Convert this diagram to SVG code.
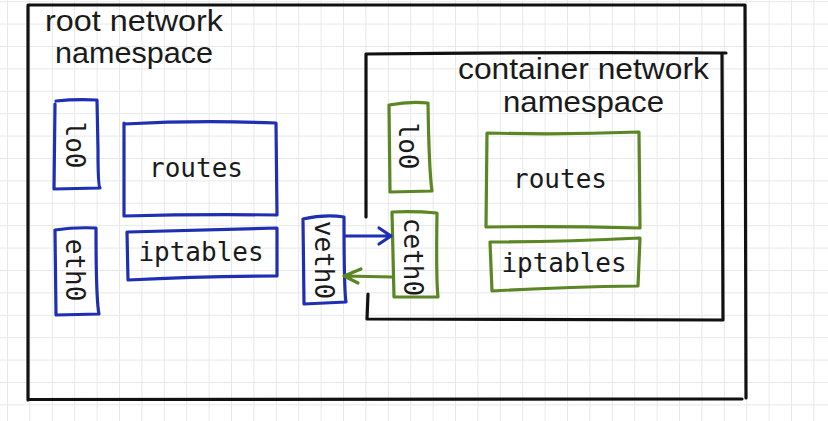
<svg xmlns="http://www.w3.org/2000/svg" width="828" height="421" viewBox="0 0 828 421">
  <defs>
    <pattern id="grid" x="7" y="1.2" width="22.4" height="22.4" patternUnits="userSpaceOnUse">
      <path d="M0,0.5 H22.4 M0.5,0 V22.4" stroke="#e8e8e8" stroke-width="1" fill="none"/>
    </pattern>
  </defs>
  <style>
    .ink { fill: none; stroke-width: 3.2; stroke-linecap: round; stroke-linejoin: round; }
    .black { stroke: #111111; }
    .blue { stroke: #1f2fb2; }
    .green { stroke: #5b8624; }
    .hand { font-family: "Liberation Sans", "DejaVu Sans", sans-serif; font-size: 30px; fill: #1a1a1a; }
    .mono { font-family: "DejaVu Sans Mono", "Liberation Mono", monospace; font-size: 26px; fill: #1a1a1a; text-anchor: middle; dominant-baseline: central; }
  </style>
  <rect width="828" height="421" fill="#ffffff"/>
  <rect width="828" height="421" fill="url(#grid)"/>

  <g id="root-namespace">
    <path class="ink black" d="M28,6 L28,400 M28,399.5 L742,399 M745,5 L746,398 M28,5 Q380,4 745,5"/>
    <text class="hand" x="45" y="31" textLength="178" lengthAdjust="spacingAndGlyphs">root network</text>
    <text class="hand" x="55" y="63" textLength="158" lengthAdjust="spacingAndGlyphs">namespace</text>
  </g>

  <g id="container-namespace">
    <path class="ink black" d="M366,54 L366,217 M368,294 L367,319 L723,320 M722,53 L723,320 M366,54 Q540,52 726,53"/>
    <text class="hand" x="458" y="79" textLength="251" lengthAdjust="spacingAndGlyphs">container network</text>
    <text class="hand" x="503" y="112" textLength="161" lengthAdjust="spacingAndGlyphs">namespace</text>
  </g>

  <g id="root-lo0">
    <path class="ink blue" d="M55,104 L54,189 L100,188 Q98,186 98,150 L97,100 Q75,99 56,101"/>
    <text class="mono" transform="translate(75,145) rotate(90)">lo0</text>
  </g>

  <g id="root-routes">
    <path class="ink blue" d="M124,123 L124,216 Q200,214 277,215 L276,123 Q200,120 124,124"/>
    <text class="mono" x="196" y="168">routes</text>
  </g>

  <g id="root-eth0">
    <path class="ink blue" d="M55,230 L56,315 L99,314 Q96,300 96,228 Q75,227 55,230"/>
    <text class="mono" transform="translate(75,270) rotate(90)">eth0</text>
  </g>

  <g id="root-iptables">
    <path class="ink blue" d="M127,232 L128,280 Q200,276 277,276 L277,228 Q200,230 128,232"/>
    <text class="mono" x="201" y="252">iptables</text>
  </g>

  <g id="veth0">
    <path class="ink blue" d="M303,219 L304,304 L346,302 Q344,290 344,217 Q325,214 303,219"/>
    <text class="mono" transform="translate(324,260) rotate(90)">veth0</text>
  </g>

  <g id="container-lo0">
    <path class="ink green" d="M389,105 L390,192 L432,191 Q429,170 428,103 Q410,101 389,105"/>
    <text class="mono" transform="translate(408,146) rotate(90)">lo0</text>
  </g>

  <g id="container-routes">
    <path class="ink green" d="M487,133 L486,227 Q560,226 640,228 L639,132 Q560,135 488,133"/>
    <text class="mono" x="560" y="179">routes</text>
  </g>

  <g id="ceth0">
    <path class="ink green" d="M392,212 L394,297 L438,297 Q436,280 437,213 Q415,211 392,212"/>
    <text class="mono" transform="translate(413,257) rotate(90)">ceth0</text>
  </g>

  <g id="container-iptables">
    <path class="ink green" d="M490,242 L492,291 Q560,287 638,286 L640,238 Q560,242 490,242"/>
    <text class="mono" x="564" y="263">iptables</text>
  </g>

  <g id="connectors">
    <path class="ink blue" stroke-width="2.5" d="M345,236 L391,236 M379,228 L391,236 L379,244"/>
    <path class="ink green" stroke-width="2.5" d="M393,277 L344,276 M361,269 L344,276 L358,283"/>
  </g>
</svg>
